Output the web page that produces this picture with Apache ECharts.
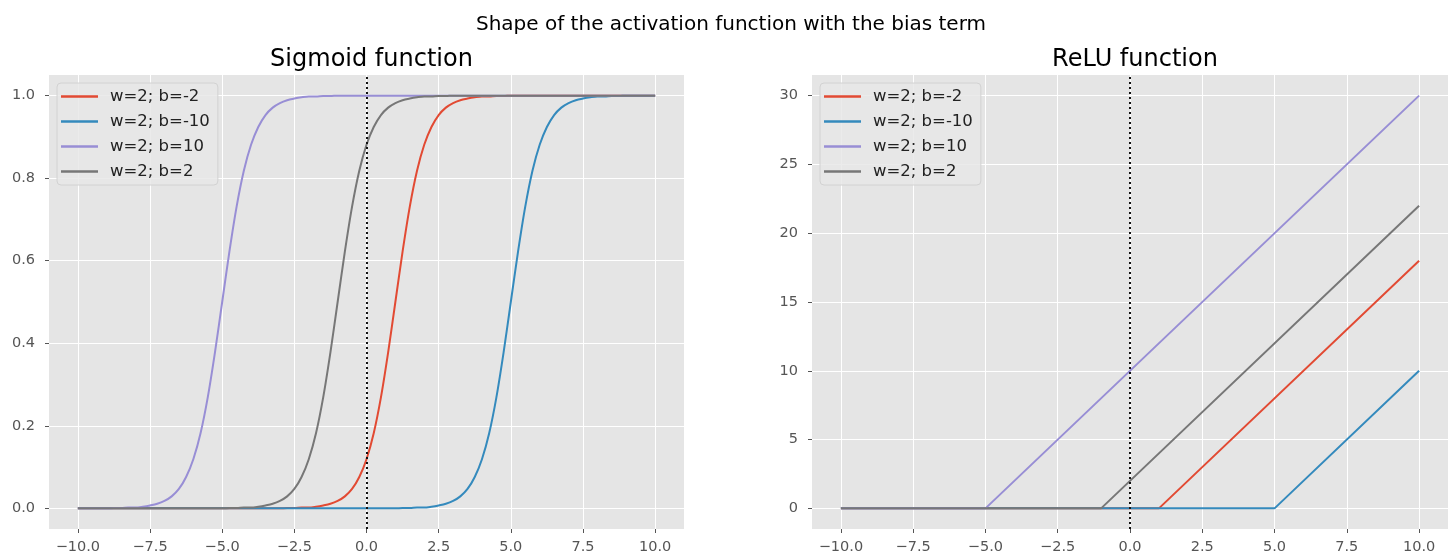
<!DOCTYPE html>
<html>
<head>
<meta charset="utf-8">
<script src="https://cdn.jsdelivr.net/npm/echarts@6/dist/echarts.min.js"></script>
<style>
  html, body { margin: 0; padding: 0; background: #fff; }
  #chart { width: 1453px; height: 558px; }
</style>
</head>
<body>
<div id="chart"></div>
<script>
(function () {
  'use strict';

  const seriesNames = ['w=2; b=-2', 'w=2; b=-10', 'w=2; b=10', 'w=2; b=2'];
  const colors = ['#E24A33', '#348ABD', '#988ED5', '#777777'];

  const xTicks = [-10, -7.5, -5, -2.5, 0, 2.5, 5, 7.5, 10];
  const sigmoidTicks = [0, 0.2, 0.4, 0.6, 0.8, 1.0];
  const reluTicks = [0, 5, 10, 15, 20, 25, 30];

  // sigmoid curves, [x, y]
  const sigB_m2 = [[-10, 0], [-3, 0.000], [-2.75, 0.001], [-2.5, 0.001], [-2.25, 0.002], [-2, 0.002], [-1.75, 0.004], [-1.5, 0.007], [-1.25, 0.011], [-1, 0.018], [-0.75, 0.029], [-0.5, 0.047], [-0.25, 0.076], [0, 0.119], [0.25, 0.182], [0.5, 0.269], [0.75, 0.378], [1, 0.5], [1.25, 0.622], [1.5, 0.731], [1.75, 0.818], [2, 0.881], [2.25, 0.924], [2.5, 0.953], [2.75, 0.971], [3, 0.982], [3.25, 0.989], [3.5, 0.993], [3.75, 0.996], [4, 0.998], [4.25, 0.998], [4.5, 0.999], [4.75, 0.999], [5, 1.000], [10, 1]];
  const sigB_m10 = [[-10, 0], [1, 0.000], [1.25, 0.001], [1.5, 0.001], [1.75, 0.002], [2, 0.002], [2.25, 0.004], [2.5, 0.007], [2.75, 0.011], [3, 0.018], [3.25, 0.029], [3.5, 0.047], [3.75, 0.076], [4, 0.119], [4.25, 0.182], [4.5, 0.269], [4.75, 0.378], [5, 0.5], [5.25, 0.622], [5.5, 0.731], [5.75, 0.818], [6, 0.881], [6.25, 0.924], [6.5, 0.953], [6.75, 0.971], [7, 0.982], [7.25, 0.989], [7.5, 0.993], [7.75, 0.996], [8, 0.998], [8.25, 0.998], [8.5, 0.999], [8.75, 0.999], [9, 1.000], [10, 1]];
  const sigB_10 = [[-10, 0], [-9, 0.000], [-8.75, 0.001], [-8.5, 0.001], [-8.25, 0.002], [-8, 0.002], [-7.75, 0.004], [-7.5, 0.007], [-7.25, 0.011], [-7, 0.018], [-6.75, 0.029], [-6.5, 0.047], [-6.25, 0.076], [-6, 0.119], [-5.75, 0.182], [-5.5, 0.269], [-5.25, 0.378], [-5, 0.5], [-4.75, 0.622], [-4.5, 0.731], [-4.25, 0.818], [-4, 0.881], [-3.75, 0.924], [-3.5, 0.953], [-3.25, 0.971], [-3, 0.982], [-2.75, 0.989], [-2.5, 0.993], [-2.25, 0.996], [-2, 0.998], [-1.75, 0.998], [-1.5, 0.999], [-1.25, 0.999], [-1, 1.000], [10, 1]];
  const sigB_2 = [[-10, 0], [-5, 0.000], [-4.75, 0.001], [-4.5, 0.001], [-4.25, 0.002], [-4, 0.002], [-3.75, 0.004], [-3.5, 0.007], [-3.25, 0.011], [-3, 0.018], [-2.75, 0.029], [-2.5, 0.047], [-2.25, 0.076], [-2, 0.119], [-1.75, 0.182], [-1.5, 0.269], [-1.25, 0.378], [-1, 0.5], [-0.75, 0.622], [-0.5, 0.731], [-0.25, 0.818], [0, 0.881], [0.25, 0.924], [0.5, 0.953], [0.75, 0.971], [1, 0.982], [1.25, 0.989], [1.5, 0.993], [1.75, 0.996], [2, 0.998], [2.25, 0.998], [2.5, 0.999], [2.75, 0.999], [3, 1.000], [10, 1]];

  // relu lines, corner points
  const reluB_m2 = [[-10, 0], [1, 0], [10, 18]];
  const reluB_m10 = [[-10, 0], [5, 0], [10, 10]];
  const reluB_10 = [[-10, 0], [-5, 0], [10, 30]];
  const reluB_2 = [[-10, 0], [-1, 0], [10, 22]];

  const sigmoidData = [sigB_m2, sigB_m10, sigB_10, sigB_2];
  const reluData = [reluB_m2, reluB_m10, reluB_10, reluB_2];

  const font = 'DejaVu Sans';
  const tickColor = '#555555';
  const fmtX = v => v.toFixed(1).replace('-', '\u2212');

  function xAxis(gridIndex) {
    return {
      type: 'value', gridIndex: gridIndex, min: -11, max: 11, position: 'bottom',
      axisLine: { show: false, onZero: false },
      axisTick: { show: true, length: 4, customValues: xTicks, lineStyle: { color: tickColor, width: 1 } },
      axisLabel: { customValues: xTicks, formatter: fmtX, color: tickColor, fontFamily: font, fontSize: 14.5, margin: 11 },
      splitLine: { show: true, lineStyle: { color: '#ffffff', width: 1 } }
    };
  }

  function yAxis(gridIndex, min, max, ticks, fmt) {
    return {
      type: 'value', gridIndex: gridIndex, min: min, max: max, position: 'left',
      axisLine: { show: false, onZero: false },
      axisTick: { show: true, length: 4, customValues: ticks, lineStyle: { color: tickColor, width: 1 } },
      axisLabel: { customValues: ticks, formatter: fmt, color: tickColor, fontFamily: font, fontSize: 14.5, margin: 14 },
      splitLine: { show: true, lineStyle: { color: '#ffffff', width: 1 } }
    };
  }

  function legend(left) {
    return {
      data: seriesNames, orient: 'vertical', left: left, top: 83,
      icon: 'rect', itemWidth: 37, itemHeight: 2.5, itemGap: 8,
      padding: [5, 8, 5, 4],
      backgroundColor: 'rgba(232,232,232,0.85)', borderColor: '#d2d2d2', borderWidth: 1, borderRadius: 4,
      textStyle: { color: '#222', fontFamily: font, fontSize: 16.5, lineHeight: 17, padding: [0, 0, 0, 7] }
    };
  }

  const vline = {
    silent: true, symbol: ['none', 'none'], label: { show: false },
    lineStyle: { color: '#111', type: [2, 3], width: 2 },
    data: [{ xAxis: 0 }]
  };

  const series = [];
  [sigmoidData, reluData].forEach((set, gi) => {
    set.forEach((d, i) => {
      series.push({
        name: seriesNames[i], type: 'line', xAxisIndex: gi, yAxisIndex: gi,
        data: d, showSymbol: false, symbol: 'none',
        smooth: gi === 0 ? 0.3 : false,
        lineStyle: { width: 2, color: colors[i] }, itemStyle: { color: colors[i] },
        markLine: i === set.length - 1 ? vline : undefined
      });
    });
  });

  const chart = echarts.init(document.getElementById('chart'));
  chart.setOption({
    animation: false,
    title: [
      { text: 'Shape of the activation function with the bias term', left: 726, textAlign: 'center', top: 10,
        textStyle: { fontFamily: font, fontSize: 20, fontWeight: 'normal', color: '#000' } },
      { text: 'Sigmoid function', left: 366.5, textAlign: 'center', top: 43,
        textStyle: { fontFamily: font, fontSize: 24, fontWeight: 'normal', color: '#000' } },
      { text: 'ReLU function', left: 1130, textAlign: 'center', top: 43,
        textStyle: { fontFamily: font, fontSize: 24, fontWeight: 'normal', color: '#000' } }
    ],
    legend: [legend(57), legend(820)],
    grid: [
      { left: 49, top: 75, width: 635, height: 454, show: true, backgroundColor: '#E5E5E5', borderWidth: 0 },
      { left: 812, top: 75, width: 636, height: 454, show: true, backgroundColor: '#E5E5E5', borderWidth: 0 }
    ],
    xAxis: [xAxis(0), xAxis(1)],
    yAxis: [
      yAxis(0, -0.05, 1.05, sigmoidTicks, v => v.toFixed(1)),
      yAxis(1, -1.5, 31.5, reluTicks, v => String(Math.round(v)))
    ],
    series: series
  });
})();
</script>
</body>
</html>
